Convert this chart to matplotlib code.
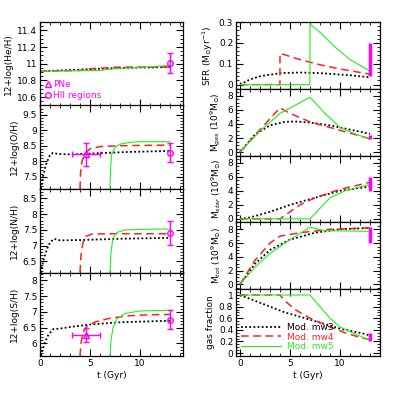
import numpy as np
import matplotlib
matplotlib.use("Agg")
import matplotlib.pyplot as plt
from matplotlib.ticker import MultipleLocator
from matplotlib.lines import Line2D

# ---- chemical abundances (left column) ----
he_mw3_t = [0, 4, 8, 13]
he_mw3 = [10.91, 10.93, 10.95, 10.96]
he_mw4_t = [0, 4, 5, 8, 13]
he_mw4 = [10.91, 10.92, 10.94, 10.96, 10.96]
he_mw5_t = [0, 6, 7.5, 9, 13]
he_mw5 = [10.91, 10.92, 10.94, 10.95, 10.98]

o_mw3_t = [0.1, 0.3, 0.6, 1.0, 1.3, 1.8, 3, 6, 9, 13]
o_mw3 = [7.1, 7.5, 7.9, 8.2, 8.27, 8.23, 8.22, 8.26, 8.3, 8.33]
o_mw4_t = [4.0, 4.05, 4.2, 4.5, 5, 6, 8, 13]
o_mw4 = [7.1, 7.6, 8.0, 8.25, 8.4, 8.47, 8.5, 8.52]
o_mw5_t = [7.0, 7.05, 7.15, 7.5, 8, 9, 10, 13]
o_mw5 = [7.1, 7.7, 8.2, 8.45, 8.55, 8.61, 8.63, 8.63]

n_mw3_t = [0.1, 0.3, 0.7, 1.0, 1.4, 2, 4, 8, 13]
n_mw3 = [6.15, 6.5, 6.9, 7.1, 7.22, 7.17, 7.18, 7.22, 7.25]
n_mw4_t = [4.0, 4.1, 4.3, 4.6, 5.2, 7, 13]
n_mw4 = [6.15, 6.7, 7.1, 7.3, 7.37, 7.38, 7.38]
n_mw5_t = [7.0, 7.1, 7.3, 7.7, 8.5, 10, 13]
n_mw5 = [6.15, 6.8, 7.25, 7.42, 7.5, 7.52, 7.53]

s_mw3_t = [0.1, 0.4, 0.8, 1.3, 2, 3, 5, 8, 13]
s_mw3 = [5.6, 5.95, 6.25, 6.45, 6.47, 6.52, 6.6, 6.67, 6.72]
s_mw4_t = [4.0, 4.1, 4.3, 4.7, 5.5, 7, 9, 11, 13]
s_mw4 = [5.6, 6.0, 6.35, 6.55, 6.68, 6.8, 6.88, 6.91, 6.92]
s_mw5_t = [7.0, 7.1, 7.3, 7.7, 8.5, 10, 13]
s_mw5 = [5.6, 6.1, 6.5, 6.78, 6.95, 7.03, 7.05]

# observations: PNe (t, value, yerr, xerr) and HII regions (t, value, yerr)
pne_t, pne_xerr = 4.6, 1.4
pne_o, pne_o_err = 8.22, 0.37
pne_s, pne_s_err = 6.27, 0.22
hii_t = 13.0
hii_he, hii_he_err = 11.01, 0.12
hii_o, hii_o_err = 8.28, 0.3
hii_n, hii_n_err = 7.4, 0.38
hii_s, hii_s_err = 6.75, 0.3

# ---- galaxy properties (right column) ----
sfr_mw3_t = [0, 1, 2, 4, 6, 8, 11, 13]
sfr_mw3 = [0, 0.025, 0.04, 0.055, 0.058, 0.055, 0.045, 0.035]
sfr_mw4_t = [0, 3.99, 4.0, 6, 8, 10, 13]
sfr_mw4 = [0, 0, 0.15, 0.12, 0.095, 0.075, 0.05]
sfr_mw5_t = [0, 6.99, 7.0, 8, 9.5, 11, 13]
sfr_mw5 = [0, 0, 0.29, 0.25, 0.18, 0.12, 0.065]

gas_mw3_t = [0, 1.5, 3, 4.5, 5.5, 7, 9, 11, 13]
gas_mw3 = [0, 2.5, 3.8, 4.3, 4.35, 4.2, 3.8, 3.2, 2.6]
gas_mw4_t = [0, 2, 4, 5, 7, 9, 11.5, 13]
gas_mw4 = [0, 3.2, 6.3, 5.5, 4.3, 3.5, 2.5, 1.9]
gas_mw5_t = [0, 2, 4, 7, 8.5, 10, 11.5, 13]
gas_mw5 = [0, 3.0, 5.5, 7.8, 5.5, 3.5, 2.6, 1.8]

star_mw3_t = [0, 1, 3, 5, 7.5, 10, 13]
star_mw3 = [0, 0.2, 1.0, 2.0, 3.0, 4.0, 4.6]
star_mw4_t = [0, 4, 5, 6, 7.5, 10, 13]
star_mw4 = [0, 0, 1.0, 2.0, 3.0, 4.2, 5.2]
star_mw5_t = [0, 7, 8, 9, 10.5, 13]
star_mw5 = [0, 0, 1.5, 3.0, 4.0, 4.9]

tot_mw3_t = [0, 1.5, 3, 5, 7.5, 10, 13]
tot_mw3 = [0, 3.0, 5.0, 6.5, 7.5, 8.0, 8.2]
tot_mw4_t = [0, 1.5, 3, 4, 6, 9, 13]
tot_mw4 = [0, 3.5, 6.0, 7.0, 7.5, 8.0, 8.2]
tot_mw5_t = [0, 1.5, 3, 5, 7, 8.5, 13]
tot_mw5 = [0, 2.5, 4.5, 6.5, 8.3, 7.8, 7.7]

frac_mw3_t = [0, 1.5, 3, 4.5, 6.5, 8.5, 10, 12.5, 13]
frac_mw3 = [1, 0.9, 0.8, 0.7, 0.6, 0.5, 0.42, 0.33, 0.3]
frac_mw4_t = [0, 4, 4.5, 5.5, 7, 9, 10.5, 12, 13]
frac_mw4 = [1, 1, 0.9, 0.75, 0.6, 0.45, 0.35, 0.27, 0.23]
frac_mw5_t = [0, 7, 8, 9, 10, 11.5, 13]
frac_mw5 = [1, 1, 0.8, 0.6, 0.45, 0.33, 0.22]

# observed ranges at present time (t = 13 Gyr)
obs_t = 13.0
obs_sfr = (0.04, 0.2)
obs_gas = (1.8, 2.5)
obs_star = (4.0, 6.0)
obs_tot = (6.0, 8.4)
obs_frac = (0.2, 0.35)

labels = ["Mod. mw3", "Mod. mw4", "Mod. mw5"]
colors = ["black", "#ff2020", "#22ee22"]
styles = [(0, (1, 1.3)), (0, (5, 3)), "-"]
widths = [1.3, 1.1, 0.8]
mag = "#ff00ff"

plt.rcParams["font.size"] = 6.5
plt.rcParams["axes.linewidth"] = 0.9

fig = plt.figure(figsize=(3.99, 3.99), dpi=100)


def style_axes(ax, xminor, ymajor, yminor):
    ax.xaxis.set_major_locator(MultipleLocator(5))
    ax.xaxis.set_minor_locator(MultipleLocator(xminor))
    ax.yaxis.set_major_locator(MultipleLocator(ymajor))
    ax.yaxis.set_minor_locator(MultipleLocator(yminor))
    ax.tick_params(which="both", direction="in", top=True, right=True, pad=2)
    ax.tick_params(which="major", length=5, width=0.8)
    ax.tick_params(which="minor", length=2.5, width=0.6)


def draw_models(ax, series):
    for (t, v), c, ls, lw in zip(series, colors, styles, widths):
        ax.plot(t, v, color=c, linestyle=ls, lw=lw)


# left column
lx, lw_ = 40 / 399, 143 / 399
lh = 83.5 / 399
ltop = 1 - 22 / 399
left_specs = [
    ("12+log(He/H)", [(he_mw3_t, he_mw3), (he_mw4_t, he_mw4), (he_mw5_t, he_mw5)], (10.5, 11.5), 0.2, 0.05),
    ("12+log(O/H)", [(o_mw3_t, o_mw3), (o_mw4_t, o_mw4), (o_mw5_t, o_mw5)], (7.1, 9.8), 0.5, 0.1),
    ("12+log(N/H)", [(n_mw3_t, n_mw3), (n_mw4_t, n_mw4), (n_mw5_t, n_mw5)], (6.15, 8.8), 0.5, 0.1),
    ("12+log(S/H)", [(s_mw3_t, s_mw3), (s_mw4_t, s_mw4), (s_mw5_t, s_mw5)], (5.6, 8.25), 0.5, 0.1),
]
left_axes = []
for i, (ylab, series, ylim, maj, mnr) in enumerate(left_specs):
    ax = fig.add_axes([lx, ltop - (i + 1) * lh, lw_, lh])
    draw_models(ax, series)
    ax.set_xlim(0, 14.3)
    ax.set_ylim(*ylim)
    ax.set_ylabel(ylab, labelpad=3)
    style_axes(ax, 1, maj, mnr)
    if i < 3:
        ax.tick_params(labelbottom=False)
    left_axes.append(ax)
left_axes[-1].set_xlabel("t (Gyr)", labelpad=2)
left_axes[-1].yaxis.set_major_formatter(plt.FuncFormatter(lambda v, p: "%g" % v))
for ax in left_axes:
    ax.yaxis.set_major_formatter(plt.FuncFormatter(lambda v, p: "%g" % v))

ekw = dict(color=mag, ecolor=mag, mfc="none", mec=mag, ms=4, capsize=2, elinewidth=1.0, lw=0)
for ax, v, e in zip(left_axes, [hii_he, hii_o, hii_n, hii_s], [hii_he_err, hii_o_err, hii_n_err, hii_s_err]):
    ax.errorbar(hii_t, v, yerr=e, fmt="o", **ekw)
for ax, v, e in zip([left_axes[1], left_axes[3]], [pne_o, pne_s], [pne_o_err, pne_s_err]):
    ax.errorbar(pne_t, v, yerr=e, xerr=pne_xerr, fmt="^", **ekw)

obs_handles = [Line2D([], [], ls="none", marker="^", mfc="none", mec=mag, ms=4),
               Line2D([], [], ls="none", marker="o", mfc="none", mec=mag, ms=4)]
leg = left_axes[0].legend(obs_handles, ["PNe", "HII regions"], loc="lower left", frameon=False,
                          handlelength=0.6, handletextpad=0.2, labelspacing=0.2,
                          borderaxespad=0.2, fontsize=6.5)
for txt in leg.get_texts():
    txt.set_color(mag)

# right column
rx, rw = 236 / 399, 144 / 399
rh = 66.8 / 399
right_specs = [
    ("SFR (M$_{\\odot}$yr$^{-1}$)", [(sfr_mw3_t, sfr_mw3), (sfr_mw4_t, sfr_mw4), (sfr_mw5_t, sfr_mw5)], (-0.02, 0.3), 0.1, 0.02, obs_sfr),
    ("M$_{gas}$ (10$^{9}$M$_{\\odot}$)", [(gas_mw3_t, gas_mw3), (gas_mw4_t, gas_mw4), (gas_mw5_t, gas_mw5)], (-0.5, 9), 2, 0.5, obs_gas),
    ("M$_{star}$ (10$^{9}$M$_{\\odot}$)", [(star_mw3_t, star_mw3), (star_mw4_t, star_mw4), (star_mw5_t, star_mw5)], (-0.5, 9), 2, 0.5, obs_star),
    ("M$_{tot}$ (10$^{9}$M$_{\\odot}$)", [(tot_mw3_t, tot_mw3), (tot_mw4_t, tot_mw4), (tot_mw5_t, tot_mw5)], (-0.7, 9), 2, 0.5, obs_tot),
    ("gas fraction", [(frac_mw3_t, frac_mw3), (frac_mw4_t, frac_mw4), (frac_mw5_t, frac_mw5)], (-0.05, 1.1), 0.2, 0.05, obs_frac),
]
right_axes = []
for i, (ylab, series, ylim, maj, mnr, obs) in enumerate(right_specs):
    ax = fig.add_axes([rx, ltop - (i + 1) * rh, rw, rh])
    draw_models(ax, series)
    ax.vlines(obs_t, obs[0], obs[1], color=mag, lw=2.5, zorder=5)
    ax.set_xlim(-0.4, 14)
    ax.set_ylim(*ylim)
    ax.set_ylabel(ylab, labelpad=3)
    ax.yaxis.set_major_formatter(plt.FuncFormatter(lambda v, p: "%g" % round(v, 3)))
    style_axes(ax, 1, maj, mnr)
    if i < 4:
        ax.tick_params(labelbottom=False)
    right_axes.append(ax)
right_axes[-1].set_xlabel("t (Gyr)", labelpad=2)

model_handles = [Line2D([], [], color=c, ls=ls, lw=w) for c, ls, w in zip(colors, styles, widths)]
leg2 = right_axes[-1].legend(model_handles, labels, loc="lower left", frameon=False,
                             handlelength=4.5, handletextpad=0.6, labelspacing=0.1,
                             borderaxespad=0.1, fontsize=6.5)
for txt, c in zip(leg2.get_texts(), colors):
    txt.set_color(c)

fig.savefig("out.png", dpi=100)
